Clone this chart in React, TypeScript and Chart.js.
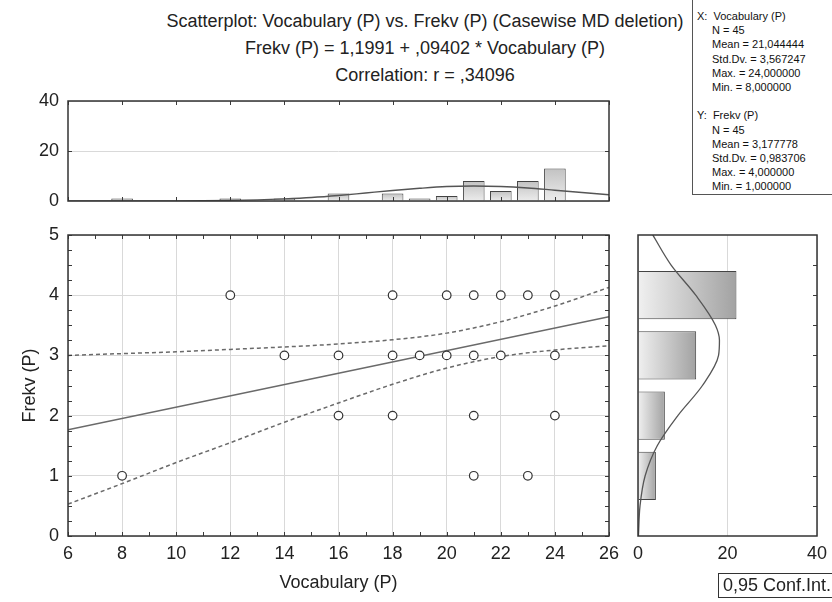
import React, { useEffect, useRef } from 'react';
import { Chart, registerables } from 'chart.js';

Chart.register(...registerables);

// ---------- data ----------
const vocabValues = [8, 12, 14, 16, 16, 18, 18, 18, 19, 20, 20, 21, 21, 21, 21, 22, 22, 23, 23, 24, 24, 24];
const frekvValues = [1, 4, 3, 3, 2, 4, 3, 2, 3, 4, 3, 4, 3, 2, 1, 4, 3, 4, 1, 4, 3, 2];

const fitX = [6, 26];
const fitY = [1.763, 3.643];

const ciX = [6, 8, 10, 12, 14, 16, 18, 20, 22, 24, 26];
const ciUpper = [3.0, 3.03, 3.06, 3.1, 3.14, 3.19, 3.26, 3.37, 3.56, 3.82, 4.13];
const ciLower = [0.53, 0.87, 1.22, 1.55, 1.89, 2.21, 2.52, 2.79, 2.98, 3.09, 3.16];

const vocabBins = [8, 12, 14, 16, 18, 19, 20, 21, 22, 23, 24];
const vocabCounts = [1, 1, 1, 3, 3, 1, 2, 8, 4, 8, 13];
const vocabCurveX = [6, 7, 8, 9, 10, 11, 12, 13, 14, 15, 16, 17, 18, 19, 20, 21, 22, 23, 24, 25, 26];
const vocabCurveY = [0, 0, 0.01, 0.02, 0.05, 0.12, 0.25, 0.47, 0.86, 1.4, 2.2, 3.2, 4.2, 5.1, 5.8, 6.0, 5.8, 5.2, 4.3, 3.4, 2.5];

const frekvBins = [1, 2, 3, 4];
const frekvCounts = [4, 6, 13, 22];
const frekvCurveY = [0, 0.5, 1, 1.5, 2, 2.5, 3, 3.25, 3.5, 4, 4.5, 5];
const frekvCurveCount = [0.1, 0.45, 1.6, 4.3, 8.9, 14.4, 18.0, 18.2, 17.3, 12.9, 7.4, 3.3];

const titleLines = [
  'Scatterplot: Vocabulary (P) vs. Frekv (P) (Casewise MD deletion)',
  'Frekv (P) = 1,1991 + ,09402 * Vocabulary (P)',
  'Correlation: r = ,34096',
];
const statsX = ['N = 45', 'Mean = 21,044444', 'Std.Dv. = 3,567247', 'Max. = 24,000000', 'Min. = 8,000000'];
const statsY = ['N = 45', 'Mean = 3,177778', 'Std.Dv. = 0,983706', 'Max. = 4,000000', 'Min. = 1,000000'];
const xLabel = 'Vocabulary (P)';
const yLabel = 'Frekv (P)';
const legendText = '0,95 Conf.Int.';

const FONT = "'Liberation Sans', Arial, Helvetica, sans-serif";
const TEXT = '#222';
const GRID = '#d9d9d9';

function range(a: number, b: number, s: number) {
  const out: number[] = [];
  for (let v = a; v <= b + 1e-9; v += s) out.push(Math.round(v * 1000) / 1000);
  return out;
}

function noPad(s: any) {
  s.paddingTop = 0;
  s.paddingBottom = 0;
  s.paddingLeft = 0;
  s.paddingRight = 0;
}

type FrameSpec = { x?: number[]; xSides?: string[]; y?: number[]; ySides?: string[]; len?: number };

function framePlugin(spec: FrameSpec) {
  return {
    id: 'frame',
    afterDatasetsDraw(chart: any) {
      const { ctx, chartArea: a, scales } = chart;
      const len = spec.len ?? 4;
      ctx.save();
      ctx.strokeStyle = '#3a3a3a';
      ctx.lineWidth = 1;
      ctx.beginPath();
      (spec.x || []).forEach((v) => {
        const p = Math.round(scales.x.getPixelForValue(v)) + 0.5;
        if ((spec.xSides || []).includes('top')) { ctx.moveTo(p, a.top); ctx.lineTo(p, a.top + len); }
        if ((spec.xSides || []).includes('bottom')) { ctx.moveTo(p, a.bottom); ctx.lineTo(p, a.bottom - len); }
      });
      (spec.y || []).forEach((v) => {
        const p = Math.round(scales.y.getPixelForValue(v)) + 0.5;
        if ((spec.ySides || []).includes('left')) { ctx.moveTo(a.left, p); ctx.lineTo(a.left + len, p); }
        if ((spec.ySides || []).includes('right')) { ctx.moveTo(a.right, p); ctx.lineTo(a.right - len, p); }
      });
      ctx.stroke();
      ctx.strokeStyle = '#333';
      ctx.lineWidth = 1.5;
      ctx.strokeRect(a.left, a.top, a.right - a.left, a.bottom - a.top);
      ctx.restore();
    },
  };
}

const tickFont = { family: FONT, size: 18 };

function topConfig(): any {
  return {
    type: 'bar',
    data: {
      datasets: [
        {
          type: 'line',
          data: vocabCurveX.map((x, i) => ({ x, y: vocabCurveY[i] })),
          borderColor: '#555',
          borderWidth: 1.3,
          pointRadius: 0,
          cubicInterpolationMode: 'monotone',
          fill: false,
        },
        {
          type: 'bar',
          data: vocabBins.map((x, i) => ({ x, y: vocabCounts[i] })),
          backgroundColor: (c: any) => {
            const ch = c.chart;
            if (!ch.chartArea || !c.raw) return '#ddd';
            const y0 = ch.scales.y.getPixelForValue(0);
            const y1 = ch.scales.y.getPixelForValue(c.raw.y);
            const g = ch.ctx.createLinearGradient(0, y0, 0, y1);
            g.addColorStop(0, '#ececec');
            g.addColorStop(1, '#c2c2c2');
            return g;
          },
          borderColor: '#444',
          borderWidth: 1,
          barPercentage: 1,
          categoryPercentage: 0.8,
        },
      ],
    },
    options: {
      animation: false,
      responsive: false,
      layout: { padding: { top: 11, right: 11, bottom: 9, left: 0 } },
      plugins: { legend: { display: false }, tooltip: { enabled: false } },
      scales: {
        x: { type: 'linear', min: 6, max: 26, display: false, offset: false, ticks: { stepSize: 2 }, grid: { display: false, offset: false }, afterFit: noPad },
        y: {
          type: 'linear', min: 0, max: 40,
          ticks: { stepSize: 20, font: tickFont, color: TEXT, padding: 9 },
          grid: { color: GRID, drawTicks: false },
          border: { display: false },
          afterFit: (s: any) => { s.width = 68; noPad(s); },
        },
      },
    },
    plugins: [framePlugin({ x: range(6, 26, 2), xSides: ['top', 'bottom'], y: [20], ySides: ['left', 'right'] })],
  };
}

function mainConfig(): any {
  const line = (xs: number[], ys: number[], dash: number[]) => ({
    data: xs.map((x, i) => ({ x, y: ys[i] })),
    showLine: true,
    borderColor: '#6a6a6a',
    borderWidth: 1.5,
    borderDash: dash,
    pointRadius: 0,
    cubicInterpolationMode: 'monotone',
    fill: false,
  });
  return {
    type: 'scatter',
    data: {
      datasets: [
        {
          data: vocabValues.map((x, i) => ({ x, y: frekvValues[i] })),
          pointRadius: 4.3,
          pointBorderColor: '#333',
          pointBackgroundColor: '#fff',
          pointBorderWidth: 1.2,
          showLine: false,
        },
        line(fitX, fitY, []),
        line(ciX, ciUpper, [4, 3]),
        line(ciX, ciLower, [4, 3]),
      ],
    },
    options: {
      animation: false,
      responsive: false,
      layout: { padding: { top: 10, right: 11, bottom: 0, left: 0 } },
      plugins: { legend: { display: false }, tooltip: { enabled: false } },
      scales: {
        x: {
          type: 'linear', min: 6, max: 26,
          ticks: { stepSize: 2, font: tickFont, color: TEXT, padding: 7 },
          grid: { color: GRID, drawTicks: false },
          border: { display: false },
          title: { display: true, text: xLabel, font: tickFont, color: TEXT, padding: { top: 0, bottom: 8 } },
          afterFit: (s: any) => { s.height = 66; noPad(s); },
        },
        y: {
          type: 'linear', min: 0, max: 5,
          ticks: { stepSize: 1, font: tickFont, color: TEXT, padding: 9 },
          grid: { color: GRID, drawTicks: false },
          border: { display: false },
          title: { display: true, text: yLabel, font: tickFont, color: TEXT, padding: { top: 19, bottom: 0 } },
          afterFit: (s: any) => { s.width = 68; noPad(s); },
        },
      },
    },
    plugins: [framePlugin({ x: range(6, 26, 1), xSides: ['top', 'bottom'], y: range(0, 5, 0.25), ySides: ['left', 'right'] })],
  };
}

function rightConfig(): any {
  return {
    type: 'bar',
    data: {
      datasets: [
        {
          type: 'line',
          indexAxis: 'y',
          data: frekvCurveY.map((y, i) => ({ x: frekvCurveCount[i], y })),
          borderColor: '#555',
          borderWidth: 1.3,
          pointRadius: 0,
          cubicInterpolationMode: 'monotone',
          fill: false,
        },
        {
          type: 'bar',
          indexAxis: 'y',
          data: frekvBins.map((y, i) => ({ x: frekvCounts[i], y })),
          backgroundColor: (c: any) => {
            const ch = c.chart;
            if (!ch.chartArea || !c.raw) return '#ddd';
            const x0 = ch.scales.x.getPixelForValue(0);
            const x1 = ch.scales.x.getPixelForValue(c.raw.x);
            const g = ch.ctx.createLinearGradient(x0, 0, x1, 0);
            g.addColorStop(0, '#f0f0f0');
            g.addColorStop(1, '#a2a2a2');
            return g;
          },
          borderColor: '#444',
          borderWidth: 1,
          barPercentage: 1,
          categoryPercentage: 0.8,
        },
      ],
    },
    options: {
      animation: false,
      responsive: false,
      indexAxis: 'y',
      layout: { padding: { top: 10, right: 15, bottom: 0, left: 18 } },
      plugins: { legend: { display: false }, tooltip: { enabled: false } },
      scales: {
        x: {
          type: 'linear', min: 0, max: 40,
          ticks: { stepSize: 20, font: tickFont, color: TEXT, padding: 7 },
          grid: { color: GRID, drawTicks: false },
          border: { display: false },
          afterFit: (s: any) => { s.height = 66; noPad(s); },
        },
        y: { type: 'linear', min: 0, max: 5, display: false, offset: false, ticks: { stepSize: 1 }, grid: { display: false, offset: false }, afterFit: noPad },
      },
    },
    plugins: [framePlugin({ y: range(0.5, 4.5, 0.5), ySides: ['right'] })],
  };
}

export default function App() {
  const topRef = useRef<HTMLCanvasElement>(null);
  const mainRef = useRef<HTMLCanvasElement>(null);
  const rightRef = useRef<HTMLCanvasElement>(null);

  useEffect(() => {
    Chart.defaults.font.family = FONT;
    Chart.defaults.color = TEXT;
    const charts = [
      new Chart(topRef.current as HTMLCanvasElement, topConfig()),
      new Chart(mainRef.current as HTMLCanvasElement, mainConfig()),
      new Chart(rightRef.current as HTMLCanvasElement, rightConfig()),
    ];
    return () => charts.forEach((c) => c.destroy());
  }, []);

  const abs = (left: number, top: number, width: number, height: number): React.CSSProperties => ({
    position: 'absolute', left, top, width, height,
  });

  return (
    <div style={{ position: 'absolute', left: 0, top: 0, width: 832, height: 602, overflow: 'hidden', background: '#fff', fontFamily: FONT, color: TEXT }}>
      <div style={{ position: 'absolute', left: 120, top: 8, width: 610, textAlign: 'center', fontSize: 18, lineHeight: '27px', whiteSpace: 'nowrap' }}>
        {titleLines.map((t, i) => <div key={i}>{t}</div>)}
      </div>
      <canvas ref={topRef} width={620} height={120} style={abs(0, 90, 620, 120)} />
      <canvas ref={mainRef} width={620} height={377} style={abs(0, 225, 620, 377)} />
      <canvas ref={rightRef} width={212} height={377} style={abs(620, 225, 212, 377)} />
      <div style={{ position: 'absolute', left: 692, top: -1, width: 150, height: 196, border: '1px solid #555', boxSizing: 'border-box', fontSize: 11, lineHeight: '14.2px', paddingTop: 9, whiteSpace: 'nowrap', color: '#111' }}>
        <div style={{ paddingLeft: 4 }}>X:&nbsp;&nbsp;Vocabulary (P)</div>
        {statsX.map((t, i) => <div key={'x' + i} style={{ paddingLeft: 19 }}>{t}</div>)}
        <div>&nbsp;</div>
        <div style={{ paddingLeft: 4 }}>Y:&nbsp;&nbsp;Frekv (P)</div>
        {statsY.map((t, i) => <div key={'y' + i} style={{ paddingLeft: 19 }}>{t}</div>)}
      </div>
      <div style={{ position: 'absolute', left: 718, top: 573, width: 130, height: 25, border: '1px solid #333', boxSizing: 'border-box', fontSize: 18, lineHeight: '23px', paddingLeft: 4, whiteSpace: 'nowrap' }}>
        {legendText}
      </div>
    </div>
  );
}
